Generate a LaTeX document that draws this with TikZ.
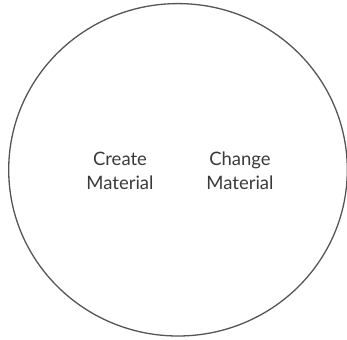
\documentclass[tikz,border=0pt]{standalone}
\usepackage{fontspec}
\setmainfont{Lato}
\definecolor{txt}{HTML}{3A3A3A}
\definecolor{ring}{HTML}{555555}
\begin{document}
\begin{tikzpicture}[x=1pt,y=1pt,
  label/.style={align=center,font=\fontsize{18.5}{24.3}\selectfont,text=txt,inner sep=0pt,anchor=base}]
\useasboundingbox (0,0) rectangle (347,339);
\draw[ring,line width=1.3pt] (178,169.2) ellipse [x radius=169.3,y radius=166.2];
\node[label] (create) at (120,149) {Create\\Material};
\node[label] (change) at (240,149) {Change\\Material};
\end{tikzpicture}
\end{document}
